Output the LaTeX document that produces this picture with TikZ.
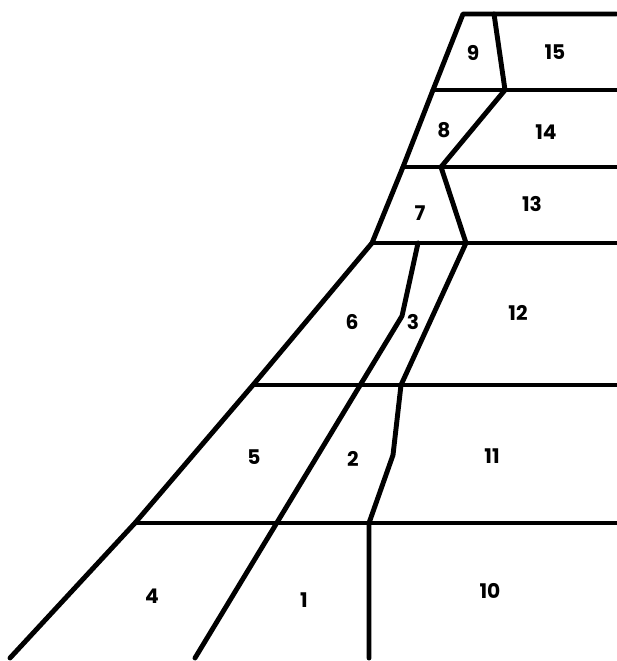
\documentclass[tikz,border=0pt]{standalone}
\usepackage{fontspec}
\setmainfont{Poppins}
\usepackage{tikz}
\usetikzlibrary{positioning}
\tikzset{
  zone/.style={line width=2.8pt, line join=round, line cap=round},
  zonelbl/.style={font=\fontsize{11.5}{13}\selectfont\bfseries}
}

\begin{document}
\begin{tikzpicture}[x=0.02cm, y=-0.02cm]
			\useasboundingbox (0,0) rectangle (616,661);
			% outer left edge
			\draw[zone] (616,14) -- (463,14) -- (433,90) -- (403,167) -- (372,243)
				-- (253,385) -- (135,523) -- (10,658);
			% horizontal rows
			\draw[zone] (433,90) -- (616,90);
			\draw[zone] (403,167) -- (616,167);
			\draw[zone] (372,243) -- (616,243);
			\draw[zone] (253,385) -- (616,385);
			\draw[zone] (135,523) -- (616,523);
			% inner dividers, upper part
			\draw[zone] (494,14) -- (505,90) -- (441,167) -- (466,243);
			% right divider down to the base
			\draw[zone] (466,243) -- (401,385) -- (393,455) -- (369,523) -- (369,658);
			% left divider (6 | 3, then 2, 1)
			\draw[zone] (418,243) -- (402,316) -- (195,658);
			% zone numbers
			\node[zonelbl] (z9)  at (473,53)  {9};
			\node[zonelbl] (z15) at (555,52)  {15};
			\node[zonelbl] (z8)  at (444,130) {8};
			\node[zonelbl] (z14) at (546,132) {14};
			\node[zonelbl] (z7)  at (420,213) {7};
			\node[zonelbl] (z13) at (532,204) {13};
			\node[zonelbl] (z6)  at (352,322) {6};
			\node[zonelbl] (z3)  at (413,322) {3};
			\node[zonelbl] (z12) at (518,313) {12};
			\node[zonelbl] (z5)  at (254,457) {5};
			\node[zonelbl] (z2)  at (353,459) {2};
			\node[zonelbl] (z11) at (492,456) {11};
			\node[zonelbl] (z4)  at (152,596) {4};
			\node[zonelbl] (z1)  at (304,600) {1};
			\node[zonelbl] (z10) at (490,591) {10};
		\end{tikzpicture}
\end{document}
